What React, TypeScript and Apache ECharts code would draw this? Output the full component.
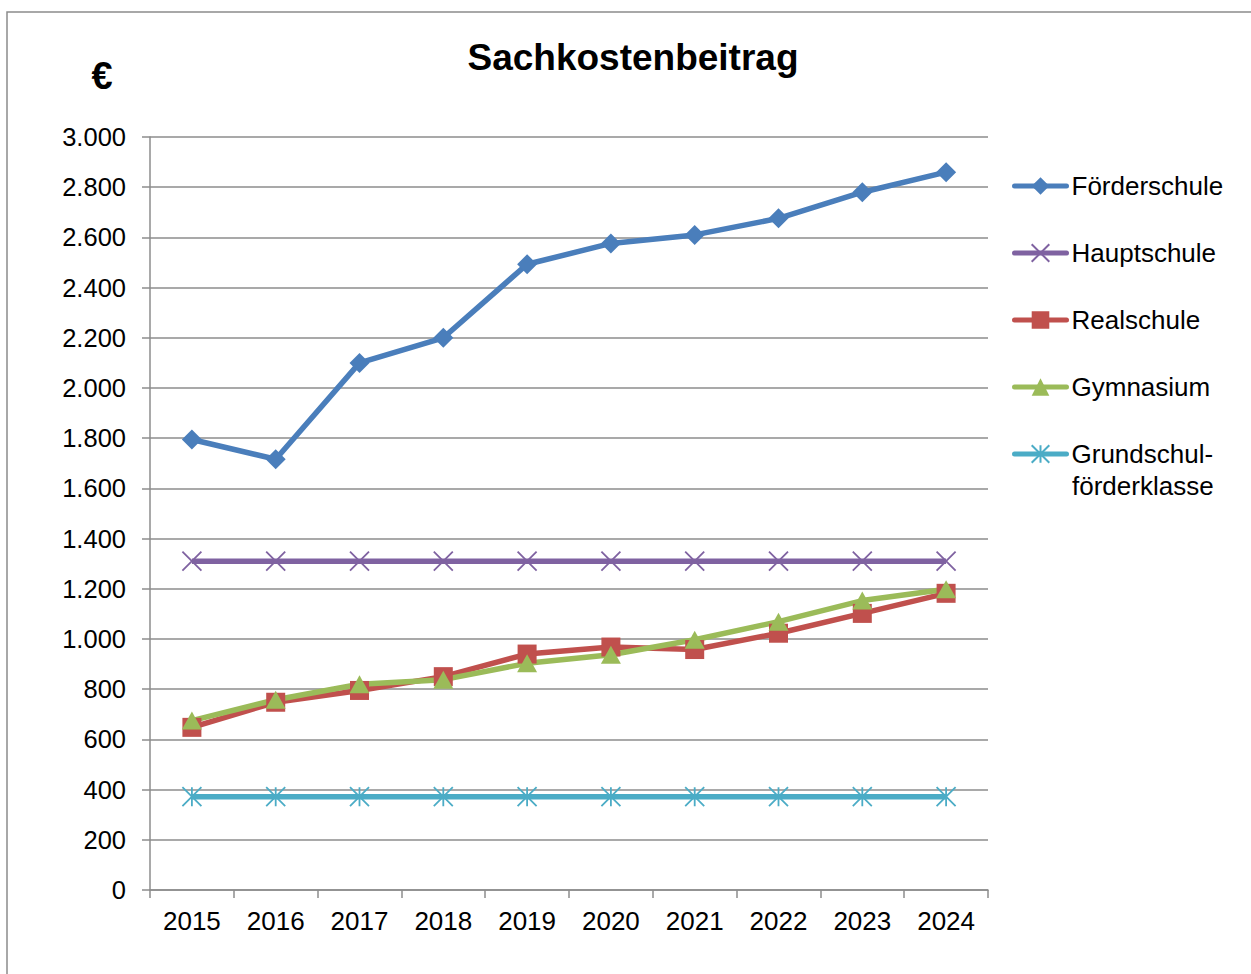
import React, { useEffect, useRef } from "react";
import * as echarts from "echarts";

const years = ["2015", "2016", "2017", "2018", "2019", "2020", "2021", "2022", "2023", "2024"];
const foerderschule = [1795, 1716, 2100, 2200, 2493, 2576, 2610, 2676, 2780, 2860];
const hauptschule = [1310, 1310, 1310, 1310, 1310, 1310, 1310, 1310, 1310, 1310];
const realschule = [648, 748, 795, 850, 940, 968, 958, 1023, 1102, 1182];
const gymnasium = [675, 758, 820, 838, 903, 937, 997, 1069, 1153, 1198];
const grundschulfoerder = [372, 372, 372, 372, 372, 372, 372, 372, 372, 372];

const FONT = "'Liberation Sans', Arial, sans-serif";
const X_PATH = "path://M0 0 L10 10 M10 0 L0 10";
const STAR_PATH = "path://M0 0 L10 10 M10 0 L0 10 M5 0 L5 10";
const LAST_NAME = "Grundschul-förderklasse";

export default function App() {
  const ref = useRef<HTMLDivElement>(null);
  useEffect(() => {
    if (!ref.current) return;
    const chart = echarts.init(ref.current, undefined, { renderer: "svg" });
    const fmt = (v: number) => String(v).replace(/\B(?=(\d{3})+(?!\d))/g, ".");
    chart.setOption({
      animation: false,
      backgroundColor: "#ffffff",
      textStyle: { fontFamily: FONT },
      graphic: [
        {
          type: "rect",
          shape: { x: 7, y: 12, width: 1400, height: 1200 },
          style: { fill: "none", stroke: "#8c8c8c", lineWidth: 1.5 },
          silent: true,
        },
        {
          type: "text",
          x: 633,
          y: 57,
          style: {
            text: "Sachkostenbeitrag",
            font: `bold 37px ${FONT}`,
            fill: "#000",
            textAlign: "center",
            textVerticalAlign: "middle",
          },
        },
        {
          type: "text",
          x: 102,
          y: 76,
          style: {
            text: "€",
            font: `bold 38px ${FONT}`,
            fill: "#000",
            textAlign: "center",
            textVerticalAlign: "middle",
          },
        },
        {
          type: "text",
          x: 1072,
          y: 486,
          style: {
            text: "förderklasse",
            font: `26px ${FONT}`,
            fill: "#000",
            textAlign: "left",
            textVerticalAlign: "middle",
          },
        },
      ],
      grid: { left: 150, right: 263, top: 137, bottom: 84, containLabel: false },
      legend: {
        orient: "vertical",
        left: 1012,
        top: 170.5,
        padding: 0,
        itemWidth: 52,
        itemHeight: 22,
        itemGap: 36,
        lineStyle: { width: 5, cap: "round" },
        textStyle: { fontSize: 26, lineHeight: 31, color: "#000", fontFamily: FONT },
        formatter: (name: string) => (name === LAST_NAME ? "Grundschul-" : name),
        data: ["Förderschule", "Hauptschule", "Realschule", "Gymnasium", LAST_NAME],
      },
      xAxis: {
        type: "category",
        data: years,
        boundaryGap: true,
        axisLine: { lineStyle: { color: "#8c8c8c", width: 1.5 } },
        axisTick: { show: true, length: 8, interval: 0, lineStyle: { color: "#8c8c8c", width: 1.5 } },
        axisLabel: { color: "#000", fontSize: 26, margin: 18, fontFamily: FONT },
      },
      yAxis: {
        type: "value",
        min: 0,
        max: 3000,
        interval: 200,
        axisLine: { show: true, lineStyle: { color: "#8c8c8c", width: 1.5 } },
        axisTick: { show: true, length: 8, lineStyle: { color: "#8c8c8c", width: 1.5 } },
        axisLabel: { color: "#000", fontSize: 25.5, margin: 24, fontFamily: FONT, formatter: fmt },
        splitLine: { show: true, lineStyle: { color: "#8c8c8c", width: 1.5 } },
      },
      series: [
        {
          name: "Förderschule",
          type: "line",
          data: foerderschule,
          symbol: "diamond",
          symbolSize: 20,
          lineStyle: { color: "#4a7ebb", width: 5.5 },
          itemStyle: { color: "#4a7ebb" },
        },
        {
          name: "Hauptschule",
          type: "line",
          data: hauptschule,
          symbol: X_PATH,
          symbolSize: 19,
          lineStyle: { color: "#7f62a1", width: 5.5 },
          itemStyle: { color: "#7f62a1", borderColor: "#7f62a1", borderWidth: 1.8 },
        },
        {
          name: "Realschule",
          type: "line",
          data: realschule,
          symbol: "rect",
          symbolSize: 19,
          lineStyle: { color: "#c0504d", width: 5.5 },
          itemStyle: { color: "#c0504d" },
        },
        {
          name: "Gymnasium",
          type: "line",
          data: gymnasium,
          symbol: "triangle",
          symbolSize: [20, 18],
          lineStyle: { color: "#9bbb59", width: 5.5 },
          itemStyle: { color: "#9bbb59" },
        },
        {
          name: LAST_NAME,
          type: "line",
          data: grundschulfoerder,
          symbol: STAR_PATH,
          symbolSize: 19,
          lineStyle: { color: "#4bacc6", width: 5.5 },
          itemStyle: { color: "#4bacc6", borderColor: "#4bacc6", borderWidth: 1.8 },
        },
      ],
    });
    return () => chart.dispose();
  }, []);
  return (
    <div
      ref={ref}
      style={{ position: "fixed", left: 0, top: 0, width: 1251, height: 974, background: "#fff" }}
    />
  );
}
